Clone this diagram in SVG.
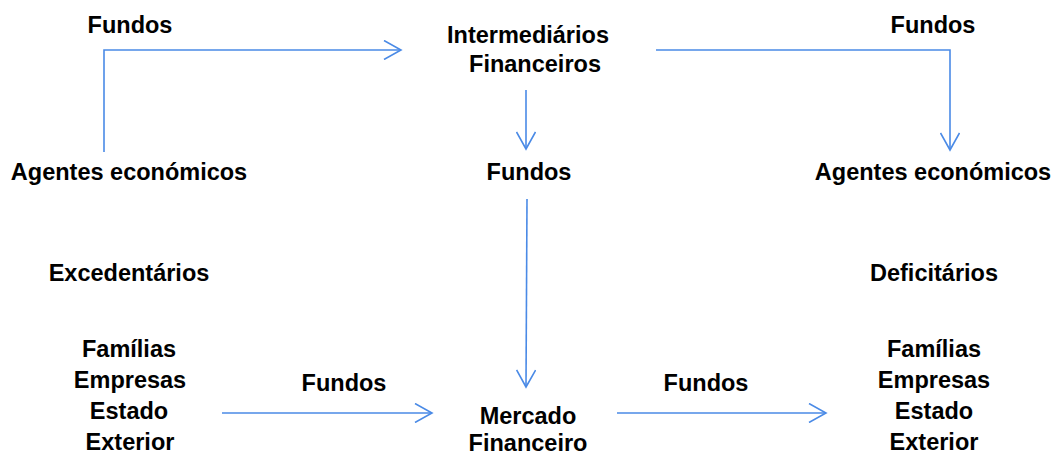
<svg xmlns="http://www.w3.org/2000/svg" width="1054" height="454" viewBox="0 0 1054 454">
<style>
  text { font-family: "Liberation Sans", Arial, sans-serif; font-weight: bold; font-size: 23.5px; fill: #000; text-anchor: middle; }
  .c { fill: none; stroke: #4a8ae6; stroke-width: 1.6; }
</style>
<defs>
  <marker id="arr" viewBox="-18 -10 20 20" markerWidth="20" markerHeight="20" refX="0" refY="0" orient="auto" markerUnits="userSpaceOnUse">
    <path d="M-17,-9.5 L0,0 L-17,9.5" fill="none" stroke="#4a8ae6" stroke-width="1.6"/>
  </marker>
</defs>
<rect width="1054" height="454" fill="#fff"/>
<g id="connectors">
  <path class="c" d="M104,152 V50 H401" marker-end="url(#arr)"/>
  <path class="c" d="M656,50 H950 V150" marker-end="url(#arr)"/>
  <path class="c" d="M526,90 V149" marker-end="url(#arr)"/>
  <path class="c" d="M527,199 L526,387" marker-end="url(#arr)"/>
  <path class="c" d="M222,413 H432" marker-end="url(#arr)"/>
  <path class="c" d="M617,413 H826" marker-end="url(#arr)"/>
</g>
<g id="label-fundos-tl"><text x="130" y="33">Fundos</text></g>
<g id="intermediarios"><text x="528" y="43">Intermediários</text><text x="535" y="72">Financeiros</text></g>
<g id="label-fundos-tr"><text x="933" y="33">Fundos</text></g>
<g id="agentes-left"><text x="129" y="180">Agentes económicos</text></g>
<g id="label-fundos-mid"><text x="529" y="180">Fundos</text></g>
<g id="agentes-right"><text x="933" y="180">Agentes económicos</text></g>
<g id="excedentarios"><text x="129" y="281">Excedentários</text></g>
<g id="deficitarios"><text x="934" y="281">Deficitários</text></g>
<g id="left-list">
  <text x="129" y="357">Famílias</text>
  <text x="130" y="388">Empresas</text>
  <text x="129" y="419">Estado</text>
  <text x="130" y="450">Exterior</text>
</g>
<g id="right-list">
  <text x="934" y="357">Famílias</text>
  <text x="934" y="388">Empresas</text>
  <text x="934" y="419">Estado</text>
  <text x="934" y="450">Exterior</text>
</g>
<g id="label-fundos-bl"><text x="344" y="391">Fundos</text></g>
<g id="mercado"><text x="528" y="424">Mercado</text><text x="528" y="451">Financeiro</text></g>
<g id="label-fundos-br"><text x="706" y="391">Fundos</text></g>
</svg>
